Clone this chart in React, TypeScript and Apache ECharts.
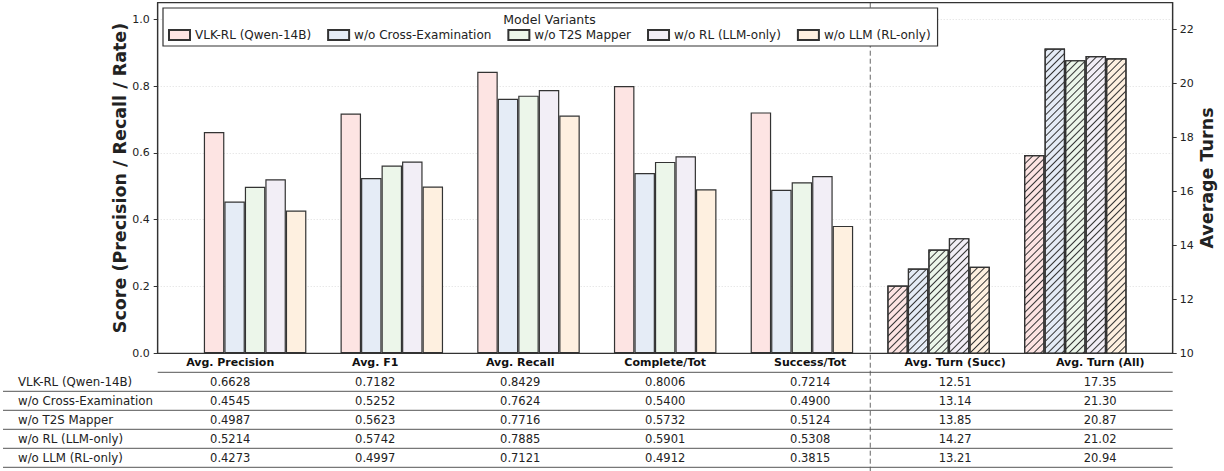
import React, { useEffect, useRef } from 'react';
import * as echarts from 'echarts';

// ---------------- data ----------------
const categories = [
  'Avg. Precision',
  'Avg. F1',
  'Avg. Recall',
  'Complete/Tot',
  'Success/Tot',
  'Avg. Turn (Succ)',
  'Avg. Turn (All)',
];
const variants = [
  'VLK-RL (Qwen-14B)',
  'w/o Cross-Examination',
  'w/o T2S Mapper',
  'w/o RL (LLM-only)',
  'w/o LLM (RL-only)',
];
// scores: Precision, F1, Recall, Complete/Tot, Success/Tot
const vlkScores = [0.6628, 0.7182, 0.8429, 0.8006, 0.7214];
const crossScores = [0.4545, 0.5252, 0.7624, 0.54, 0.49];
const t2sScores = [0.4987, 0.5623, 0.7716, 0.5732, 0.5124];
const rlScores = [0.5214, 0.5742, 0.7885, 0.5901, 0.5308];
const llmScores = [0.4273, 0.4997, 0.7121, 0.4912, 0.3815];
// turns: Avg. Turn (Succ), Avg. Turn (All)
const vlkTurns = [12.51, 17.35];
const crossTurns = [13.14, 21.3];
const t2sTurns = [13.85, 20.87];
const rlTurns = [14.27, 21.02];
const llmTurns = [13.21, 20.94];

const scoreRows = [vlkScores, crossScores, t2sScores, rlScores, llmScores];
const turnRows = [vlkTurns, crossTurns, t2sTurns, rlTurns, llmTurns];

const colors = ['#fde4e3', '#e5ecf6', '#ecf6ea', '#f2eef6', '#fef0e0'];

const legendTitle = 'Model Variants';
const leftAxisTitle = 'Score (Precision / Recall / Rate)';
const rightAxisTitle = 'Average Turns';

// ---------------- layout ----------------
const W = 1224;
const H = 471;
const FRAME_L = 157.7;
const FRAME_R = 1172.7;
const TOP = 2.7;
const BOTTOM = 353.3;
const UNITS = 7.425; // matplotlib xlim span
const BAND = (FRAME_R - FRAME_L) / UNITS;
const BAR_L = FRAME_L + (0.7125 - 0.5) * BAND;
const BAR_R = BAR_L + 7 * BAND;
const BAR_W = 0.15 * BAND;
const COL_W = (FRAME_R - FRAME_L) / 7;
const HEADER_LINE_Y = 372.3;
const ROW_H = 19;
const FONT = '"DejaVu Sans", "Liberation Sans", sans-serif';
const TEXT_C = '#222';
const EDGE = '#333';

export default function App() {
  const ref = useRef<HTMLDivElement>(null);

  useEffect(() => {
    document.body.style.margin = '0';
    if (!ref.current) return;
    const chart = echarts.init(ref.current, undefined, { renderer: 'svg' });

    const scoreSeries = variants.map((name, i) => ({
      type: 'bar',
      name,
      xAxisIndex: 1,
      yAxisIndex: 2,
      data: [...scoreRows[i], '-', '-'],
      barWidth: BAR_W,
      barGap: '0%',
      silent: true,
      itemStyle: { color: colors[i], borderColor: EDGE, borderWidth: 1.2 },
    }));
    const turnSeries = variants.map((name, i) => ({
      type: 'bar',
      name,
      xAxisIndex: 2,
      yAxisIndex: 3,
      data: ['-', '-', '-', '-', '-', ...turnRows[i]],
      barWidth: BAR_W,
      barGap: '0%',
      silent: true,
      itemStyle: {
        color: colors[i],
        borderColor: EDGE,
        borderWidth: 1.2,
        decal: {
          symbol: 'rect',
          symbolSize: 1,
          color: '#333',
          dashArrayX: [1, 0],
          dashArrayY: [1, 3.7],
          rotation: -Math.PI / 4,
        },
      },
    }));

    const elements: any[] = [];
    const txt = (x: number, y: number, text: string, size: number, align: string, extra: any = {}) => ({
      type: 'text',
      x,
      y,
      z: 100,
      silent: true,
      ...extra,
      style: {
        text,
        fill: TEXT_C,
        font: `${extra.weight || 'normal'} ${size}px ${FONT}`,
        align,
        textAlign: align,
        verticalAlign: 'middle',
        textVerticalAlign: 'middle',
      },
    });
    // frame on top
    elements.push({
      type: 'rect',
      z: 60,
      silent: true,
      shape: { x: FRAME_L, y: TOP, width: FRAME_R - FRAME_L, height: BOTTOM - TOP },
      style: { fill: 'none', stroke: EDGE, lineWidth: 1.2 },
    });
    // header bottom line
    elements.push({
      type: 'line',
      z: 50,
      silent: true,
      shape: { x1: FRAME_L, y1: HEADER_LINE_Y, x2: FRAME_R, y2: HEADER_LINE_Y },
      style: { stroke: '#555', lineWidth: 1 },
    });
    variants.forEach((name, r) => {
      const yc = HEADER_LINE_Y + ROW_H * (r + 0.5);
      const yl = HEADER_LINE_Y + ROW_H * (r + 1);
      elements.push({
        type: 'line',
        z: 50,
        silent: true,
        shape: { x1: 3, y1: yl, x2: FRAME_R, y2: yl },
        style: { stroke: '#555', lineWidth: 1 },
      });
      elements.push(txt(18, yc, name, 11.8, 'left'));
      const vals = [
        ...scoreRows[r].map((v) => v.toFixed(4)),
        ...turnRows[r].map((v) => v.toFixed(2)),
      ];
      vals.forEach((s, c) => {
        elements.push(txt(FRAME_L + COL_W * (c + 0.5), yc, s, 11.5, 'center'));
      });
    });
    // dashed separator
    const sepX = BAR_L + 5 * BAND;
    elements.push({
      type: 'line',
      z: 1,
      silent: true,
      shape: { x1: sepX, y1: TOP, x2: sepX, y2: H },
      style: { stroke: '#666', lineWidth: 1, lineDash: [5, 3] },
    });
    // legend title
    elements.push(txt(549.5, 19.5, legendTitle, 12.5, 'center'));
    // axis titles
    const midY = (TOP + BOTTOM) / 2;
    elements.push(txt(120, midY, leftAxisTitle, 17.5, 'center', { rotation: Math.PI / 2, weight: 'bold' }));
    elements.push(txt(1207, midY, rightAxisTitle, 17.5, 'center', { rotation: Math.PI / 2, weight: 'bold' }));

    const hiddenAxis = { show: false };

    chart.setOption({
      animation: false,
      backgroundColor: '#fff',
      grid: [
        {
          left: FRAME_L,
          right: W - FRAME_R,
          top: TOP,
          bottom: H - BOTTOM,
          show: false,
        },
        {
          left: BAR_L,
          right: W - BAR_R,
          top: TOP,
          bottom: H - BOTTOM,
        },
      ],
      legend: {
        data: variants,
        left: 163,
        top: 8,
        orient: 'horizontal',
        itemWidth: 21,
        itemHeight: 10,
        itemGap: 16,
        padding: [21, 7, 5, 5],
        borderColor: EDGE,
        borderWidth: 1.2,
        borderRadius: 0,
        backgroundColor: '#fff',
        icon: 'rect',
        selectedMode: false,
        z: 10,
        textStyle: { fontFamily: FONT, fontSize: 12, color: TEXT_C },
      },
      xAxis: [
        {
          type: 'category',
          gridIndex: 0,
          data: categories,
          boundaryGap: true,
          axisLine: { show: true, lineStyle: { color: EDGE, width: 1.2 } },
          axisTick: { show: false },
          splitLine: { show: false },
          axisLabel: {
            interval: 0,
            margin: 4,
            fontFamily: FONT,
            fontSize: 11,
            fontWeight: 'bold',
            color: '#111',
          },
        },
        { type: 'category', gridIndex: 1, data: categories, ...hiddenAxis },
        { type: 'category', gridIndex: 1, data: categories, ...hiddenAxis },
      ],
      yAxis: [
        {
          type: 'value',
          gridIndex: 0,
          position: 'left',
          min: 0,
          max: 1.05,
          interval: 0.2,
          axisLine: { show: true, lineStyle: { color: EDGE, width: 1.2 } },
          axisTick: { show: true, length: 4, lineStyle: { color: EDGE } },
          axisLabel: {
            margin: 8,
            fontFamily: FONT,
            fontSize: 11,
            color: TEXT_C,
            showMaxLabel: false,
            formatter: (v: number) => v.toFixed(1),
          },
          splitLine: {
            show: true,
            showMaxLine: false,
            showMinLine: false,
            lineStyle: { color: '#d6d6d6', width: 0.8, type: [1, 2] },
          },
        },
        {
          type: 'value',
          gridIndex: 0,
          position: 'right',
          min: 10,
          max: 23,
          interval: 2,
          axisLine: { show: true, lineStyle: { color: EDGE, width: 1.2 } },
          axisTick: { show: true, length: 4, lineStyle: { color: EDGE } },
          axisLabel: {
            margin: 7,
            fontFamily: FONT,
            fontSize: 11,
            color: TEXT_C,
            showMaxLabel: false,
          },
          splitLine: { show: false },
        },
        { type: 'value', gridIndex: 1, min: 0, max: 1.05, ...hiddenAxis },
        { type: 'value', gridIndex: 1, min: 10, max: 23, ...hiddenAxis },
      ],
      graphic: { elements },
      series: [...scoreSeries, ...turnSeries],
    });

    return () => chart.dispose();
  }, []);

  return (
    <div
      ref={ref}
      style={{ position: 'absolute', left: 0, top: 0, width: W, height: H }}
    />
  );
}
